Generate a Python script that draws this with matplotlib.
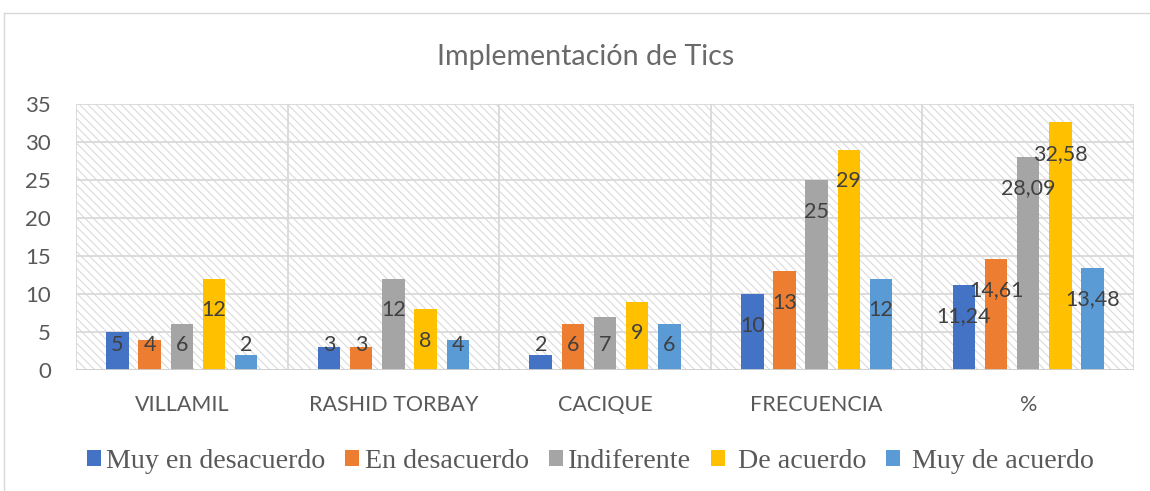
import matplotlib
matplotlib.use("Agg")
import matplotlib.pyplot as plt
from matplotlib.patches import Rectangle, Patch
from matplotlib.lines import Line2D

# ---- data ----
categories = ["VILLAMIL", "RASHID TORBAY", "CACIQUE", "FRECUENCIA", "%"]
series_names = ["Muy en desacuerdo", "En desacuerdo", "Indiferente", " De acuerdo", " Muy de acuerdo"]
muy_en_desacuerdo = [5, 3, 2, 10, 11.24]
en_desacuerdo = [4, 3, 6, 13, 14.61]
indiferente = [6, 12, 7, 25, 28.09]
de_acuerdo = [12, 8, 9, 29, 32.58]
muy_de_acuerdo = [2, 4, 6, 12, 13.48]
yticks = [0, 5, 10, 15, 20, 25, 30, 35]
title = "Implementación de Tics"

series_values = [muy_en_desacuerdo, en_desacuerdo, indiferente, de_acuerdo, muy_de_acuerdo]
colors = ["#4472C4", "#ED7D31", "#A5A5A5", "#FFC000", "#5B9BD5"]

plt.rcParams["font.family"] = ["Lato", "DejaVu Sans"]
plt.rcParams["hatch.linewidth"] = 0.7

fig = plt.figure(figsize=(11.5, 4.91), dpi=100)
ax = fig.add_axes([0.0661, 0.2464, 0.9200, 0.5418])

# hatched plot-area background
bg = Rectangle((0, 0), 1, 1, transform=ax.transAxes, facecolor="white",
               edgecolor="#d6d6d6", hatch="\\\\\\\\", linewidth=0, zorder=0)
ax.add_patch(bg)

grid_c = "#d9d9d9"
for y in yticks[1:]:
    ax.axhline(y, color=grid_c, lw=1.3, zorder=1)
ax.axhline(0, color="#cfcfcf", lw=1.3, zorder=3)
for k in range(len(categories) + 1):
    ax.axvline(-0.5 + k, color=grid_c, lw=1.3, zorder=1)

n = len(series_values)
step = 0.152
width = 0.106
for i, (name, vals, c) in enumerate(zip(series_names, series_values, colors)):
    xs = [j + (i - (n - 1) / 2) * step for j in range(len(categories))]
    ax.bar(xs, vals, width=width, color=c, zorder=2, label=name)
    for x, v in zip(xs, vals):
        lab = f"{v:g}".replace(".", ",")
        ax.text(x, max(v - 4.15, 3.35), lab, ha="center", va="center",
                fontsize=15.5, color="#404040", zorder=4)

ax.set_xlim(-0.5, len(categories) - 0.5)
ax.set_ylim(0, 35)
ax.set_yticks(yticks)
ax.set_yticklabels([str(t) for t in yticks])
ax.set_xticks(range(len(categories)))
ax.set_xticklabels(categories)
ax.tick_params(axis="y", length=0, pad=18, labelsize=16, labelcolor="#595959")
ax.tick_params(axis="x", length=0, pad=18, labelsize=15.5, labelcolor="#595959")
for s in ax.spines.values():
    s.set_visible(False)

fig.text(0.5095, 0.884, title, ha="center", va="center", fontsize=20.6,
         color="#6a6a6a", fontweight="normal")

handles = [Patch(facecolor=c, edgecolor="none") for c in colors]
fig.legend(handles, series_names, loc="center", bbox_to_anchor=(0.5135, 0.061),
           ncol=5, frameon=False,
           prop={"family": ["Liberation Serif"], "size": 20.2},
           labelcolor="#595959", handlelength=0.5, handleheight=0.5,
           handletextpad=0.2, columnspacing=0.7)

# outer chart border
fig.add_artist(Line2D([3.5 / 1150, 3.5 / 1150], [0, 1 - 12.5 / 491],
                      transform=fig.transFigure, color="#d9d9d9", lw=1))
fig.add_artist(Line2D([3.5 / 1150, 1], [1 - 12.5 / 491, 1 - 12.5 / 491],
                      transform=fig.transFigure, color="#d9d9d9", lw=1))

fig.savefig("out.png", dpi=100)
